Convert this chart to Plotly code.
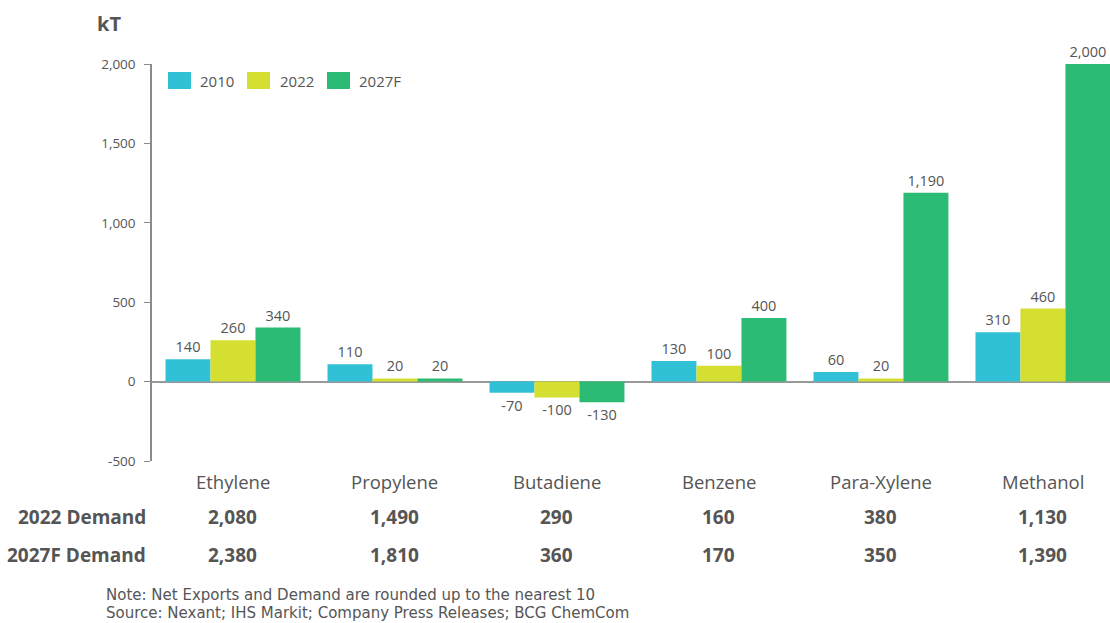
import plotly.graph_objects as go

categories = ["Ethylene", "Propylene", "Butadiene", "Benzene", "Para-Xylene", "Methanol"]
series_names = ["2010", "2022", "2027F"]
net_2010 = [140, 110, -70, 130, 60, 310]
net_2022 = [260, 20, -100, 100, 20, 460]
net_2027f = [340, 20, -130, 400, 1190, 2000]
demand_2022 = ["2,080", "1,490", "290", "160", "380", "1,130"]
demand_2027f = ["2,380", "1,810", "360", "170", "350", "1,390"]
y_ticks = [-500, 0, 500, 1000, 1500, 2000]
y_tick_labels = ["-500", "0", "500", "1,000", "1,500", "2,000"]
colors = ["#31C1D7", "#D4DF32", "#2BBB74"]

FONT = "Open Sans"
NOTE_FONT = "DejaVu Sans"
GRAY = "#555555"

W, H = 1110, 623
L, R, T, B = 152, 0, 64, 162
PW, PH = W - L - R, H - T - B


def px(x):
    return (x - L) / PW


def py(y):
    return (H - B - y) / PH


fig = go.Figure()
for name, vals, col in zip(series_names, [net_2010, net_2022, net_2027f], colors):
    fig.add_trace(go.Bar(
        x=categories, y=vals, name=name, showlegend=False,
        marker=dict(color=col, line=dict(width=0)),
        text=[f"{v:,}" for v in vals], textposition="outside",
        textfont=dict(family=FONT, size=14.5, color=GRAY),
        cliponaxis=False,
    ))

annotations = []
shapes = []

# unit label
annotations.append(dict(text="<b>kT</b>", xref="paper", yref="paper", x=px(95), y=py(24),
                        xanchor="left", yanchor="middle", showarrow=False,
                        font=dict(family=FONT, size=20, color=GRAY)))

# legend: colour swatches with labels
legend_pos = [(168, 198), (247, 278), (327, 357)]
for (sx, tx), name, col in zip(legend_pos, series_names, colors):
    shapes.append(dict(type="rect", xref="paper", yref="paper",
                       x0=px(sx), x1=px(sx + 23), y0=py(89), y1=py(72),
                       fillcolor=col, line=dict(width=0)))
    annotations.append(dict(text=name, xref="paper", yref="paper", x=px(tx), y=py(81),
                            xanchor="left", yanchor="middle", showarrow=False,
                            font=dict(family=FONT, size=15, color=GRAY)))

# category names and demand rows under each group
for i, cat in enumerate(categories):
    annotations.append(dict(text=cat, x=i, xref="x", y=py(481), yref="paper",
                            yanchor="middle", showarrow=False,
                            font=dict(family=FONT, size=18.5, color=GRAY)))
    annotations.append(dict(text="<b>%s</b>" % demand_2022[i], x=i, xref="x", y=py(517), yref="paper",
                            yanchor="middle", showarrow=False,
                            font=dict(family=FONT, size=19, color=GRAY)))
    annotations.append(dict(text="<b>%s</b>" % demand_2027f[i], x=i, xref="x", y=py(555), yref="paper",
                            yanchor="middle", showarrow=False,
                            font=dict(family=FONT, size=19, color=GRAY)))

for label, yy in [("2022 Demand", 517), ("2027F Demand", 555)]:
    annotations.append(dict(text="<b>%s</b>" % label, x=px(148), xref="paper", y=py(yy), yref="paper",
                            yanchor="middle", xanchor="right", showarrow=False,
                            font=dict(family=FONT, size=19, color=GRAY)))

notes = ["Note: Net Exports and Demand are rounded up to the nearest 10",
         "Source: Nexant; IHS Markit; Company Press Releases; BCG ChemCom"]
for j, note in enumerate(notes):
    annotations.append(dict(text=note, x=px(104), xref="paper", y=py(595 + 18 * j), yref="paper",
                            yanchor="middle", xanchor="left", showarrow=False,
                            font=dict(family=NOTE_FONT, size=15, color=GRAY)))

fig.update_layout(
    width=W, height=H,
    margin=dict(l=L, r=R, t=T, b=B),
    plot_bgcolor="white", paper_bgcolor="white",
    barmode="group", bargap=0.167, bargroupgap=0,
    font=dict(family=FONT, color=GRAY),
    showlegend=False,
    xaxis=dict(range=[-0.5, 5.414], showticklabels=False, showline=False,
               showgrid=False, zeroline=False, ticks=""),
    yaxis=dict(range=[-500, 2000], tickvals=y_ticks, ticktext=y_tick_labels,
               showgrid=False, showline=True, linecolor="#8a8a8a",
               linewidth=1.5, ticks="outside", ticklen=6, tickcolor="#8a8a8a",
               ticklabelstandoff=6,
               tickfont=dict(family=FONT, size=13.5, color=GRAY),
               zeroline=True, zerolinecolor="#999999", zerolinewidth=1.5),
    annotations=annotations,
    shapes=shapes,
)

fig.write_html("out.html")
